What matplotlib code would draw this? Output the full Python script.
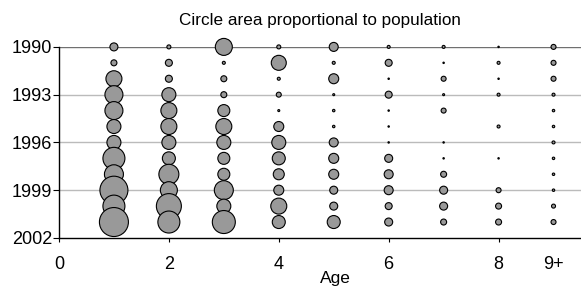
"""Bubble chart: population by age and year, circle area proportional to population."""
import matplotlib

matplotlib.use("Agg")
import matplotlib.pyplot as plt
import numpy as np

plt.rcParams["font.family"] = ["Liberation Sans", "DejaVu Sans"]

years = list(range(1990, 2002))
ages = [1, 2, 3, 4, 5, 6, 7, 8, 9]
age_labels = ["0", "2", "4", "6", "8", "9+"]
age_ticks = [0, 2, 4, 6, 8, 9]
year_ticks = [1990, 1993, 1996, 1999, 2002]

# population per age (rows = years 1990..2001), arbitrary units
pop_age1 = [64, 36, 256, 324, 324, 196, 196, 484, 361, 784, 484, 841]
pop_age2 = [16, 49, 49, 196, 256, 256, 196, 169, 400, 289, 625, 484]
pop_age3 = [289, 9, 36, 36, 144, 256, 196, 144, 144, 361, 196, 529]
pop_age4 = [16, 225, 9, 25, 4, 100, 196, 169, 121, 100, 256, 169]
pop_age5 = [81, 9, 100, 4, 6, 6, 81, 100, 100, 64, 64, 169]
pop_age6 = [9, 49, 2, 49, 2, 2, 2, 64, 81, 81, 49, 64]
pop_age7 = [9, 2, 25, 4, 25, 0, 2, 2, 36, 64, 64, 36]
pop_age8 = [2, 9, 2, 9, 0, 9, 0, 2, 0, 25, 36, 36]
pop_age9 = [25, 25, 25, 9, 6, 6, 9, 6, 6, 6, 16, 25]

pops = [pop_age1, pop_age2, pop_age3, pop_age4, pop_age5,
        pop_age6, pop_age7, pop_age8, pop_age9]

fig = plt.figure(figsize=(5.81, 2.86), dpi=100)
ax = fig.add_axes([0.1015, 0.168, 0.8985, 0.668])

# one pop unit = 1 px^2 of diameter squared -> points^2 at 100 dpi
px2pt = 0.72 ** 2
for age, pop in zip(ages, pops):
    pop = np.asarray(pop, dtype=float)
    keep = pop > 0
    ax.scatter(np.full(keep.sum(), age), np.asarray(years)[keep],
               s=pop[keep] * px2pt, color="#999999", edgecolor="black",
               linewidth=0.8, zorder=3, clip_on=False)

ax.set_xlim(0, 9.5)
ax.set_ylim(2002, 1990)
ax.set_xticks(age_ticks)
ax.set_xticklabels(age_labels)
ax.set_yticks(year_ticks)
ax.xaxis.get_major_ticks()[-1].tick1line.set_visible(False)

for y in year_ticks[:-1]:
    ax.axhline(y, color="#707070" if y == 1990 else "#bbbbbb",
               linewidth=1.0, zorder=1)

for side in ("top", "right"):
    ax.spines[side].set_visible(False)
ax.spines["left"].set_linewidth(1.0)
ax.spines["bottom"].set_linewidth(1.0)

ax.tick_params(axis="x", direction="out", length=3, pad=10, labelsize=13)
ax.tick_params(axis="y", direction="out", length=4, pad=1, labelsize=13)

ax.set_xlabel("Age", fontsize=12.5, labelpad=0)
ax.xaxis.set_label_coords(0.529, -0.175)
ax.set_title("Circle area proportional to population", fontsize=12.3, pad=16)

fig.savefig("out.png", dpi=100)
